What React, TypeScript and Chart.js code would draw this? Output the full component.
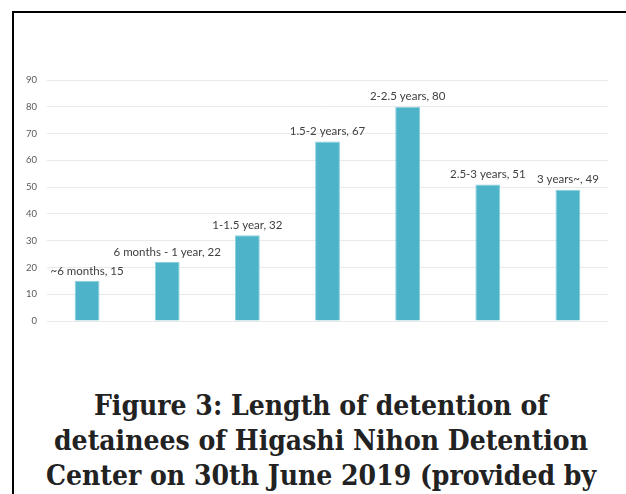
import React, { useEffect, useRef } from "react";
import { Chart, registerables } from "chart.js";

Chart.register(...registerables);

const categories: string[] = [
  "~6 months",
  "6 months - 1 year",
  "1-1.5 year",
  "1.5-2 years",
  "2-2.5 years",
  "2.5-3 years",
  "3 years~",
];
const values: number[] = [15, 22, 32, 67, 80, 51, 49];
const yMin = 0;
const yMax = 90;
const yStep = 10;
const titleLines: string[] = [
  "Figure 3: Length of detention of",
  "detainees of Higashi Nihon Detention",
  "Center on 30th June 2019 (provided by",
];

const labelPlugin = {
  id: "barLabels",
  afterDatasetsDraw(chart: any) {
    const ctx = chart.ctx;
    const meta = chart.getDatasetMeta(0);
    ctx.save();
    ctx.font = "11.5px Lato";
    ctx.fillStyle = "#404040";
    ctx.textAlign = "center";
    ctx.textBaseline = "middle";
    meta.data.forEach((bar: any, i: number) => {
      ctx.fillText(`${categories[i]}, ${values[i]}`, bar.x, bar.y - 10);
    });
    ctx.restore();
  },
};

export default function App() {
  const ref = useRef<HTMLCanvasElement | null>(null);

  useEffect(() => {
    if (!ref.current) return;
    const chart = new Chart(ref.current, {
      type: "bar",
      data: {
        labels: categories,
        datasets: [
          {
            data: values,
            backgroundColor: "#4DB3C8",
            borderColor: "#8ACFDD",
            borderWidth: 1,
            categoryPercentage: 1,
            barPercentage: 0.31,
          },
        ],
      },
      options: {
        animation: false,
        responsive: false,
        devicePixelRatio: 1,
        layout: { padding: { left: 0, right: 18, top: 80, bottom: 39 } },
        plugins: {
          legend: { display: false },
          tooltip: { enabled: false },
          title: { display: false },
        },
        scales: {
          x: { display: false },
          y: {
            min: yMin,
            max: yMax,
            ticks: {
              stepSize: yStep,
              padding: 10,
              color: "#595959",
              font: { family: "Lato", size: 9.5 },
            },
            grid: { color: "#E9E9E9", lineWidth: 1, drawTicks: false },
            border: { display: false },
            afterFit: (scale: any) => {
              scale.width = 47;
            },
          },
        },
      },
      plugins: [labelPlugin],
    });
    return () => chart.destroy();
  }, []);

  return (
    <div
      style={{
        position: "absolute",
        left: 0,
        top: 0,
        width: 626,
        height: 494,
        overflow: "hidden",
        background: "#fff",
      }}
    >
      <div
        style={{
          position: "absolute",
          left: 12,
          top: 11,
          width: 700,
          height: 600,
          borderTop: "2px solid #000",
          borderLeft: "2px solid #000",
        }}
      />
      <canvas
        ref={ref}
        width={626}
        height={360}
        style={{ position: "absolute", left: 0, top: 0, width: 626, height: 360 }}
      />
      <div
        style={{
          position: "absolute",
          left: 16,
          top: 388,
          width: 610,
          textAlign: "center",
          fontFamily: "'DejaVu Serif'",
          fontWeight: "bold",
          fontStretch: "condensed",
          fontSize: 28,
          lineHeight: "35px",
          color: "#222",
          whiteSpace: "nowrap",
        }}
      >
        {titleLines.map((t, i) => (
          <div key={i}>{t}</div>
        ))}
      </div>
    </div>
  );
}
